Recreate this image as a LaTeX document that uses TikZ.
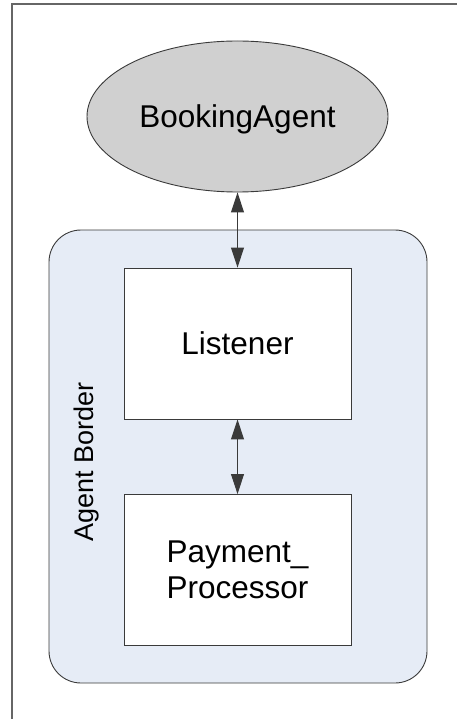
\documentclass[tikz,border=0pt]{standalone}
\usepackage{fontspec}
\setmainfont{Liberation Sans}
\usetikzlibrary{shapes.geometric,arrows.meta}
\definecolor{ellfill}{HTML}{D0D0D0}
\definecolor{bordfill}{HTML}{E6ECF6}
\definecolor{linegray}{HTML}{3A3A3A}
\tikzset{
  boxnode/.style={draw=linegray, line width=0.9pt, fill=white, minimum width=227pt, minimum height=151pt, inner sep=0pt, font=\fontsize{31.5}{36}\selectfont, align=center},
  link/.style={draw=linegray, line width=1pt, {Triangle[length=20pt,width=13pt]}-{Triangle[length=20pt,width=13pt]}},
}
\begin{document}
\begin{tikzpicture}[x=1pt,y=-1pt]
\useasboundingbox (0,0) rectangle (457,719);
\draw[draw=gray!80!black, line width=1.3pt] (12,719) -- (12,4) -- (457,4);
\node[draw=linegray, line width=0.9pt, fill=bordfill, rounded corners=32pt, minimum width=378pt, minimum height=453pt, inner sep=0pt] (border) at (238,456.5) {};
\node[rotate=90, anchor=base, font=\fontsize{27}{30}\selectfont] (lbl) at (93,462) {Agent Border};
\node[ellipse, draw=linegray, line width=0.9pt, fill=ellfill, minimum width=301pt, minimum height=151pt, inner sep=0pt, font=\fontsize{31.5}{36}\selectfont, text depth=0pt] (agent) at (237.5,116.5) {BookingAgent};
\node[boxnode] (listener) at (237.5,343.5) {Listener};
\node[boxnode] (payment) at (237.5,570) {Payment\_\\Processor};
\draw[link] (agent.south) -- (listener.north);
\draw[link] (listener.south) -- (payment.north);
\end{tikzpicture}
\end{document}
